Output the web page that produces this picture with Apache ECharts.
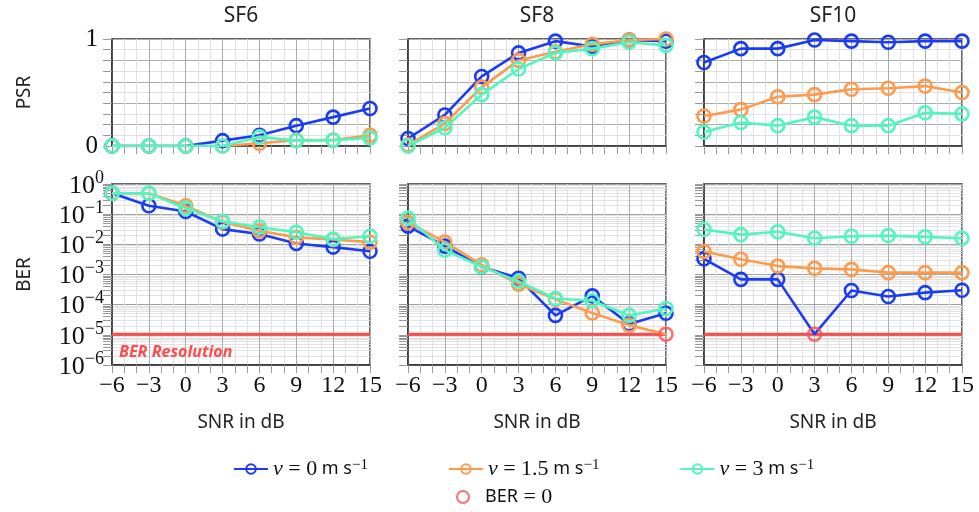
<!DOCTYPE html>
<html>
<head>
<meta charset="utf-8">
<title>PSR / BER vs SNR</title>
<script src="https://cdn.jsdelivr.net/npm/echarts@6/dist/echarts.min.js"></script>
<style>
  html, body { margin: 0; padding: 0; background: #fff; }
  #chart { width: 979px; height: 512px; }
</style>
</head>
<body>
<div id="chart"></div>
<script>
// ---- data ----
const snr = [-6, -3, 0, 3, 6, 9, 12, 15];
const panels = ['SF6', 'SF8', 'SF10'];
const speedNames = ['v0', 'v1.5', 'v3'];

// packet success rate
const psrSf6V0 = [0, 0, 0, 0.05, 0.10, 0.19, 0.27, 0.35];
const psrSf6V15 = [0, 0, 0, 0, 0.025, 0.055, 0.055, 0.10];
const psrSf6V3 = [0, 0, 0, 0, 0.085, 0.05, 0.055, 0.075];
const psrSf8V0 = [0.07, 0.29, 0.65, 0.87, 0.98, 0.93, 0.99, 0.98];
const psrSf8V15 = [0.01, 0.21, 0.55, 0.80, 0.88, 0.95, 0.99, 1.0];
const psrSf8V3 = [0, 0.17, 0.48, 0.72, 0.87, 0.91, 0.97, 0.94];
const psrSf10V0 = [0.78, 0.91, 0.91, 0.99, 0.98, 0.97, 0.98, 0.98];
const psrSf10V15 = [0.28, 0.34, 0.46, 0.48, 0.53, 0.54, 0.56, 0.50];
const psrSf10V3 = [0.13, 0.22, 0.19, 0.27, 0.19, 0.19, 0.31, 0.30];

// bit error rate (0 = no bit error seen)
const berSf6V0 = [0.49, 0.19, 0.123, 0.032, 0.022, 0.0107, 0.0081, 0.0059];
const berSf6V15 = [0.49, 0.49, 0.19, 0.055, 0.028, 0.017, 0.0144, 0.0118];
const berSf6V3 = [0.49, 0.49, 0.158, 0.058, 0.037, 0.025, 0.015, 0.0186];
const berSf8V0 = [0.040, 0.0087, 0.0018, 0.00075, 0.000044, 0.000196, 0.000023, 0.000052];
const berSf8V15 = [0.053, 0.0118, 0.0021, 0.00048, 0.00015, 0.000053, 0.000021, 0];
const berSf8V3 = [0.074, 0.0064, 0.0018, 0.00059, 0.00016, 0.000135, 0.000044, 0.000075];
const berSf10V0 = [0.0033, 0.00069, 0.00069, 0, 0.000295, 0.000187, 0.00025, 0.0003];
const berSf10V15 = [0.0058, 0.0032, 0.0019, 0.0016, 0.00148, 0.00115, 0.00115, 0.00115];
const berSf10V3 = [0.031, 0.021, 0.026, 0.016, 0.0186, 0.0195, 0.0177, 0.016];

const berResolution = 1.05e-5;

const psrData = [[psrSf6V0, psrSf6V15, psrSf6V3], [psrSf8V0, psrSf8V15, psrSf8V3], [psrSf10V0, psrSf10V15, psrSf10V3]];
const berData = [[berSf6V0, berSf6V15, berSf6V3], [berSf8V0, berSf8V15, berSf8V3], [berSf10V0, berSf10V15, berSf10V3]];

// ---- style ----
const colors = ['#1a3cf5', '#ff9a4d', '#52f5bf'];
const red = '#ff4b4b';
const serif = 'Liberation Serif';
const sans = 'Noto Sans';
const colLeft = [112, 408, 704];
const colWidth = 258;
const hollow = 'rgba(255,255,255,0)';

const chart = echarts.init(document.getElementById('chart'));

const supRich = {
  b: { fontFamily: serif, fontSize: 26, lineHeight: 30, color: '#111', verticalAlign: 'bottom' },
  s: { fontFamily: serif, fontSize: 18, lineHeight: 18, color: '#111', verticalAlign: 'top' }
};

const grids = [], xAxes = [], yAxes = [], series = [], graphics = [];

panels.forEach((p, c) => {
  // top row: PSR, bottom row: BER
  grids.push({ left: colLeft[c], width: colWidth, top: 39, height: 107, show: true, borderColor: '#333', borderWidth: 1.5 });
  grids.push({ left: colLeft[c], width: colWidth, top: 184, height: 181, show: true, borderColor: '#333', borderWidth: 1.5 });

  graphics.push({
    type: 'text', x: colLeft[c] + colWidth / 2, y: 6,
    style: { text: p, font: '21px "' + sans + '"', fill: '#222', textAlign: 'center' }
  });

  [0, 1].forEach(r => {
    const gi = c * 2 + r;
    xAxes.push({
      gridIndex: gi, type: 'value', min: -6, max: 15, interval: 3,
      axisLine: { show: true, onZero: false, lineStyle: { color: '#333', width: 1.5 } },
      axisTick: { show: true, length: 8, lineStyle: { color: '#999' } },
      minorTick: { show: true, splitNumber: 3, length: 8, lineStyle: { color: '#999' } },
      splitLine: { show: true, lineStyle: { color: '#ababab' } },
      minorSplitLine: { show: true, lineStyle: { color: '#e0e0e0' } },
      axisLabel: r === 1 ? {
        show: true, fontFamily: serif, fontSize: 24, color: '#111', margin: 9,
        formatter: v => String(v).replace('-', '\u2212')
      } : { show: false },
      name: r === 1 ? 'SNR in dB' : '', nameLocation: 'middle', nameGap: 48,
      nameTextStyle: { fontFamily: sans, fontSize: 19, color: '#222' }
    });

    const common = {
      gridIndex: gi,
      axisLine: { show: true, onZero: false, lineStyle: { color: '#333', width: 1.5 } },
      axisTick: { show: true, length: 9, lineStyle: { color: '#999' } },
      nameLocation: 'middle', nameGap: 78, nameRotate: 90,
      nameTextStyle: { fontFamily: sans, fontSize: 19, color: '#222' }
    };
    if (r === 0) {
      yAxes.push(Object.assign({}, common, {
        type: 'value', min: 0, max: 1, interval: 0.2,
        minorTick: { show: true, splitNumber: 2, length: 9, lineStyle: { color: '#999' } },
        splitLine: { show: true, lineStyle: { color: '#ababab' } },
        minorSplitLine: { show: true, lineStyle: { color: '#e0e0e0' } },
        axisLabel: {
          show: c === 0, fontFamily: serif, fontSize: 25, color: '#111', margin: 14,
          formatter: v => (v === 0 || v === 1) ? String(v) : ''
        },
        name: c === 0 ? 'PSR' : ''
      }));
    } else {
      yAxes.push(Object.assign({}, common, {
        type: 'log', logBase: 10, min: 1e-6, max: 1, interval: 1,
        minorTick: { show: true, splitNumber: 9, length: 9, lineStyle: { color: '#999' } },
        splitLine: { show: true, lineStyle: { color: '#a0a0a0' } },
        minorSplitLine: { show: true, lineStyle: { color: '#e2e2e2' } },
        axisLabel: {
          show: c === 0, margin: 8, rich: supRich,
          formatter: v => {
            const e = Math.round(Math.log10(v));
            return '{b|10}{s|' + (e < 0 ? '\u2212' : '') + Math.abs(e) + '}';
          }
        },
        name: c === 0 ? 'BER' : ''
      }));
    }
  });

  // resolution limit of the BER measurement
  series.push({
    type: 'line', xAxisIndex: c * 2 + 1, yAxisIndex: c * 2 + 1,
    symbol: 'circle', symbolSize: 0, showSymbol: true, silent: true,
    lineStyle: { color: red, width: 3 }, itemStyle: { color: red }, z: 2, animation: false,
    data: [
      {
        value: [-6, berResolution],
        label: c === 0 ? {
          show: true, position: 'right', offset: [2, 18], formatter: 'BER Resolution',
          color: red, fontFamily: sans, fontStyle: 'italic', fontWeight: 'bold', fontSize: 16
        } : { show: false }
      },
      [15, berResolution]
    ]
  });

  speedNames.forEach((name, k) => {
    const base = {
      name, type: 'line', symbol: 'circle', symbolSize: 13,
      lineStyle: { color: colors[k], width: 2.6 },
      itemStyle: { color: hollow, borderColor: colors[k], borderWidth: 2.6 },
      z: 3 + k, animation: false
    };
    series.push(Object.assign({}, base, {
      xAxisIndex: c * 2, yAxisIndex: c * 2,
      data: snr.map((x, i) => [x, psrData[c][k][i]])
    }));
    series.push(Object.assign({}, base, {
      xAxisIndex: c * 2 + 1, yAxisIndex: c * 2 + 1,
      data: snr.map((x, i) => berData[c][k][i] === 0
        ? { value: [x, berResolution], symbol: 'none' }
        : [x, berData[c][k][i]])
    }));
  });

  // points where no bit errors were observed
  const zeros = [];
  berData[c].forEach(arr => arr.forEach((v, i) => { if (v === 0) zeros.push([snr[i], berResolution]); }));
  series.push({
    name: 'BER = 0', type: 'scatter', xAxisIndex: c * 2 + 1, yAxisIndex: c * 2 + 1,
    symbol: 'circle', symbolSize: 13, z: 10, animation: false,
    itemStyle: { color: hollow, borderColor: red, borderWidth: 2.6 },
    data: zeros
  });
});

const legendRich = {
  i: { fontFamily: serif, fontStyle: 'italic', fontSize: 22, color: '#111' },
  n: { fontFamily: serif, fontSize: 22, color: '#111' },
  u: { fontFamily: sans, fontSize: 18, color: '#111' },
  s: { fontFamily: serif, fontSize: 15, color: '#111', verticalAlign: 'top', lineHeight: 13 },
  t: { fontFamily: sans, fontSize: 18, color: '#111' }
};
const legendText = {
  'v0': '{i|v}{n| = 0}{u| m s}{s|\u22121}',
  'v1.5': '{i|v}{n| = 1.5}{u| m s}{s|\u22121}',
  'v3': '{i|v}{n| = 3}{u| m s}{s|\u22121}',
  'BER = 0': '{t|BER}{n| = 0}'
};

chart.setOption({
  backgroundColor: '#fff',
  animation: false,
  grid: grids,
  xAxis: xAxes,
  yAxis: yAxes,
  series: series,
  graphic: graphics,
  legend: [
    {
      data: speedNames, top: 453, left: 228, itemGap: 80, itemWidth: 34, itemHeight: 12,
      formatter: n => legendText[n], textStyle: { rich: legendRich }
    },
    {
      data: ['BER = 0'], top: 481, left: 451, itemWidth: 34, itemHeight: 12,
      formatter: n => legendText[n], textStyle: { rich: legendRich }
    }
  ]
});
window.addEventListener('resize', () => chart.resize());
</script>
</body>
</html>
